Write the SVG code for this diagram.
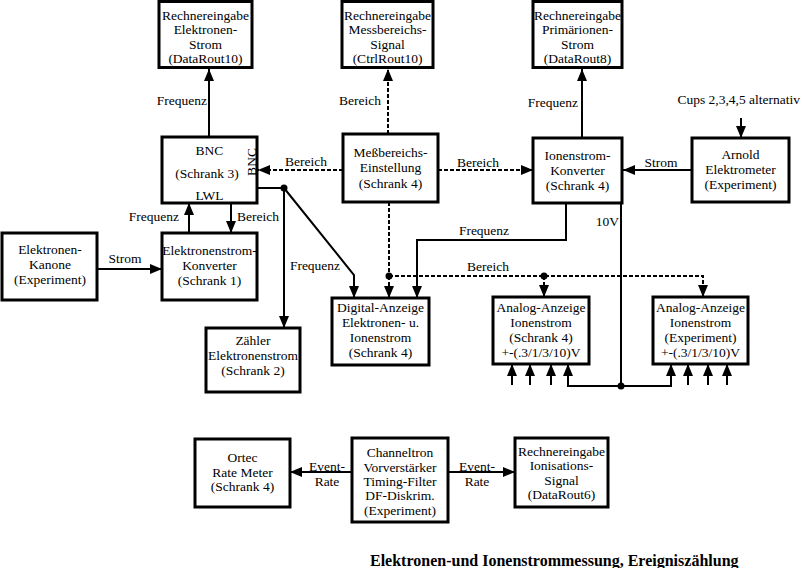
<svg xmlns="http://www.w3.org/2000/svg" width="801" height="568" viewBox="0 0 801 568">
<defs>
<marker id="ah" viewBox="0 0 12 10" markerWidth="12" markerHeight="10" refX="12" refY="5" orient="auto" markerUnits="userSpaceOnUse"><path d="M0,0 L12,5 L0,10 z" fill="#000"/></marker>
<style>
.box{fill:#fff;stroke:#000;stroke-width:3}
text{font-family:"Liberation Serif","Times New Roman",serif;font-size:13.5px;fill:#000}
.c{text-anchor:middle}
.e{text-anchor:end}
.ln{fill:none;stroke:#000;stroke-width:2}
.ar{marker-end:url(#ah)}
.da{stroke-dasharray:4,2}
.dot{fill:#000}
.title{font-weight:bold;font-size:16px}
</style>
</defs>
<rect width="801" height="568" fill="#fff"/>
<g id="connectors">
<line class="ln ar" x1="209" y1="137" x2="209" y2="69"/>
<text class="e" x="207" y="105">Frequenz</text>
<line class="ln ar da" x1="388" y1="134" x2="388" y2="69"/>
<text class="e" x="381" y="105">Bereich</text>
<line class="ln ar" x1="582" y1="138" x2="582" y2="69"/>
<text class="e" x="578" y="107">Frequenz</text>
<text class="e" x="800" y="104">Cups 2,3,4,5 alternativ</text>
<line class="ln ar" x1="741" y1="118" x2="741" y2="138"/>
<line class="ln ar" x1="692" y1="170" x2="623" y2="170"/>
<text class="c" x="661" y="167">Strom</text>
<line class="ln ar da" x1="438" y1="170" x2="533" y2="170"/>
<text class="c" x="478" y="167">Bereich</text>
<line class="ln ar da" x1="343" y1="170" x2="258" y2="170"/>
<text class="c" x="306" y="166">Bereich</text>
<polyline class="ln" points="257,188 284,188"/>
<circle class="dot" cx="284" cy="188" r="3.5"/>
<line class="ln ar" x1="284" y1="188" x2="284" y2="328"/>
<polyline class="ln ar" points="284,188 354,275 354,298"/>
<text class="c" x="315" y="270">Frequenz</text>
<line class="ln ar" x1="189" y1="233" x2="189" y2="203"/>
<text class="e" x="179" y="221">Frequenz</text>
<line class="ln ar" x1="231" y1="203" x2="231" y2="233"/>
<text x="237" y="221">Bereich</text>
<line class="ln ar" x1="97" y1="269" x2="162" y2="269"/>
<text class="c" x="125" y="263">Strom</text>
<polyline class="ln da" points="389,202 389,276"/>
<line class="ln ar da" x1="389" y1="276" x2="389" y2="298"/>
<polyline class="ln ar da" points="389,276 703,276 703,297"/>
<circle class="dot" cx="389" cy="276" r="3.5"/>
<circle class="dot" cx="544" cy="276" r="3.5"/>
<line class="ln ar da" x1="544" y1="276" x2="544" y2="297"/>
<text class="c" x="488" y="271">Bereich</text>
<polyline class="ln ar" points="566,203 566,240 417,240 417,298"/>
<text class="c" x="484" y="235">Frequenz</text>
<line class="ln" x1="621" y1="203" x2="621" y2="386"/>
<text class="e" x="619" y="226">10V</text>
<polyline class="ln ar" points="621,386 568,386 568,364"/>
<polyline class="ln ar" points="621,386 671,386 671,364"/>
<circle class="dot" cx="621" cy="386" r="3.5"/>
<line class="ln ar" x1="512" y1="385" x2="512" y2="364"/>
<line class="ln ar" x1="530" y1="385" x2="530" y2="364"/>
<line class="ln ar" x1="551" y1="385" x2="551" y2="364"/>
<line class="ln ar" x1="688" y1="385" x2="688" y2="364"/>
<line class="ln ar" x1="708" y1="385" x2="708" y2="364"/>
<line class="ln ar" x1="727" y1="385" x2="727" y2="364"/>
<line class="ln ar" x1="352" y1="472" x2="290" y2="472"/>
<text class="c" x="327" y="471">Event-</text>
<text class="c" x="327" y="486">Rate</text>
<line class="ln ar" x1="448" y1="472" x2="515" y2="472"/>
<text class="c" x="477" y="471">Event-</text>
<text class="c" x="477" y="486">Rate</text>
</g>
<g id="n_dr10">
<rect class="box" x="159" y="1.5" width="93" height="66"/>
<text class="c" x="205.5" y="19.5">Rechnereingabe</text>
<text class="c" x="205.5" y="34">Elektronen-</text>
<text class="c" x="205.5" y="48.5">Strom</text>
<text class="c" x="205.5" y="63">(DataRout10)</text>
</g>
<g id="n_cr10">
<rect class="box" x="342" y="1.5" width="91" height="66"/>
<text class="c" x="387.5" y="19.5">Rechnereingabe</text>
<text class="c" x="387.5" y="34">Messbereichs-</text>
<text class="c" x="387.5" y="48.5">Signal</text>
<text class="c" x="387.5" y="63">(CtrlRout10)</text>
</g>
<g id="n_dr8">
<rect class="box" x="533" y="1.5" width="89" height="66"/>
<text class="c" x="577.5" y="19.5">Rechnereingabe</text>
<text class="c" x="577.5" y="34">Primärionen-</text>
<text class="c" x="577.5" y="48.5">Strom</text>
<text class="c" x="577.5" y="63">(DataRout8)</text>
</g>
<g id="n_bnc">
<rect class="box" x="162" y="137" width="95" height="66"/>
<text class="c" x="209.5" y="155">BNC</text>
<text class="c" x="207" y="178">(Schrank 3)</text>
<text class="c" x="209.5" y="200">LWL</text>
<text class="c" transform="translate(255.5,162) rotate(-90)">BNC</text>
</g>
<g id="n_mess">
<rect class="box" x="343" y="134" width="95" height="68"/>
<text class="c" x="390.5" y="157">Meßbereichs-</text>
<text class="c" x="390.5" y="172">Einstellung</text>
<text class="c" x="390.5" y="188">(Schrank 4)</text>
</g>
<g id="n_ionk">
<rect class="box" x="533" y="138" width="89" height="65"/>
<text class="c" x="577.5" y="160">Ionenstrom-</text>
<text class="c" x="577.5" y="175">Konverter</text>
<text class="c" x="577.5" y="190">(Schrank 4)</text>
</g>
<g id="n_arnold">
<rect class="box" x="692" y="138" width="97" height="64"/>
<text class="c" x="740.5" y="159">Arnold</text>
<text class="c" x="740.5" y="174">Elektrometer</text>
<text class="c" x="740.5" y="189">(Experiment)</text>
</g>
<g id="n_kanone">
<rect class="box" x="2" y="233" width="95" height="67"/>
<text class="c" x="50" y="254">Elektronen-</text>
<text class="c" x="50" y="269">Kanone</text>
<text class="c" x="50" y="284">(Experiment)</text>
</g>
<g id="n_ekonv">
<rect class="box" x="162" y="233" width="95" height="67"/>
<text class="c" x="209.5" y="255">Elektronenstrom-</text>
<text class="c" x="209.5" y="270">Konverter</text>
<text class="c" x="209.5" y="285">(Schrank 1)</text>
</g>
<g id="n_zaehler">
<rect class="box" x="206" y="328" width="94" height="64"/>
<text class="c" x="253" y="345">Zähler</text>
<text class="c" x="253" y="360">Elektronenstrom</text>
<text class="c" x="253" y="375">(Schrank 2)</text>
</g>
<g id="n_digital">
<rect class="box" x="332" y="298" width="97" height="67"/>
<text class="c" x="380.5" y="312">Digital-Anzeige</text>
<text class="c" x="380.5" y="327">Elektronen- u.</text>
<text class="c" x="380.5" y="342">Ionenstrom</text>
<text class="c" x="380.5" y="357">(Schrank 4)</text>
</g>
<g id="n_analog4">
<rect class="box" x="493" y="297" width="96" height="67"/>
<text class="c" x="541" y="312">Analog-Anzeige</text>
<text class="c" x="541" y="327">Ionenstrom</text>
<text class="c" x="541" y="342">(Schrank 4)</text>
<text class="c" x="541" y="357">+-(.3/1/3/10)V</text>
</g>
<g id="n_analogexp">
<rect class="box" x="653" y="297" width="95" height="67"/>
<text class="c" x="700.5" y="312">Analog-Anzeige</text>
<text class="c" x="700.5" y="327">Ionenstrom</text>
<text class="c" x="700.5" y="342">(Experiment)</text>
<text class="c" x="700.5" y="357">+-(.3/1/3/10)V</text>
</g>
<g id="n_ortec">
<rect class="box" x="195" y="439" width="95" height="68"/>
<text class="c" x="242.5" y="462">Ortec</text>
<text class="c" x="242.5" y="477">Rate Meter</text>
<text class="c" x="242.5" y="491">(Schrank 4)</text>
</g>
<g id="n_channeltron">
<rect class="box" x="352" y="438" width="96" height="84"/>
<text class="c" x="400" y="457">Channeltron</text>
<text class="c" x="400" y="472">Vorverstärker</text>
<text class="c" x="400" y="486">Timing-Filter</text>
<text class="c" x="400" y="500">DF-Diskrim.</text>
<text class="c" x="400" y="515">(Experiment)</text>
</g>
<g id="n_dr6">
<rect class="box" x="515" y="438" width="93" height="69"/>
<text class="c" x="561.5" y="456">Rechnereingabe</text>
<text class="c" x="561.5" y="470">Ionisations-</text>
<text class="c" x="561.5" y="485">Signal</text>
<text class="c" x="561.5" y="499">(DataRout6)</text>
</g>
<text class="title" x="370" y="566">Elektronen-und Ionenstrommessung, Ereigniszählung</text>
</svg>
